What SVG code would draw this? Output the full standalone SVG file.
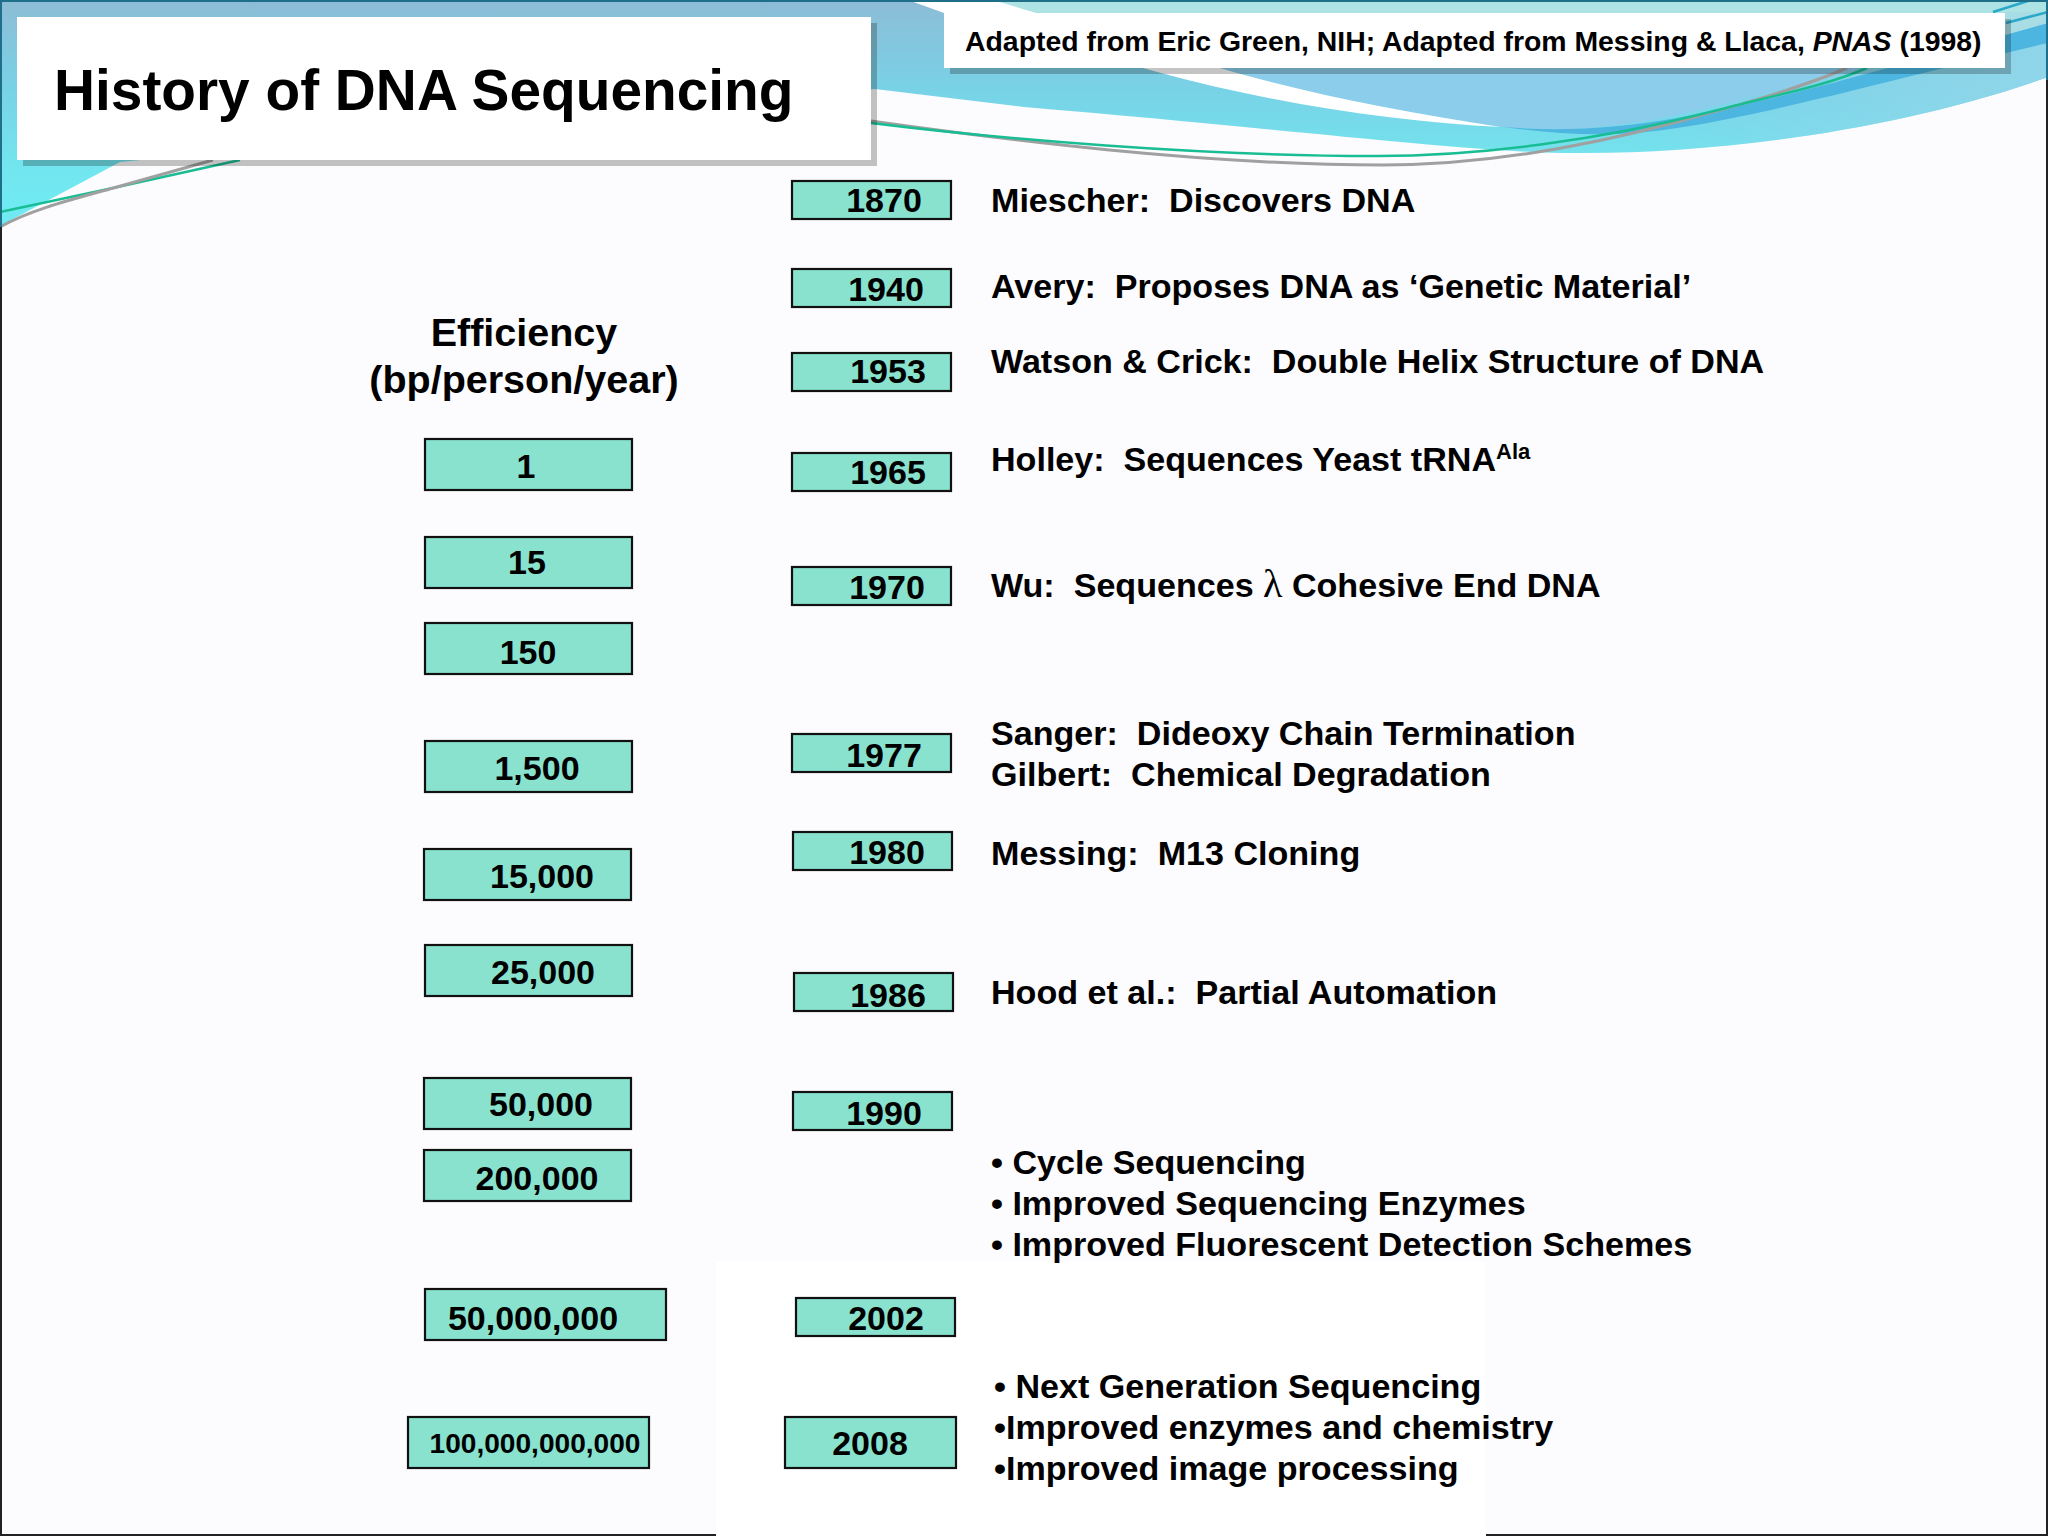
<svg xmlns="http://www.w3.org/2000/svg" width="2048" height="1536" viewBox="0 0 2048 1536">
<style>
text{font-family:"Liberation Sans",Arial,sans-serif;font-weight:bold;fill:#000;white-space:pre}
.box{fill:#88e2ce;stroke:#111;stroke-width:2.2}
.n{font-size:34px;text-anchor:middle}
.t{font-size:34.1px}
.sh{fill:#000;opacity:.23}
</style>
<defs>
<linearGradient id="sw" gradientUnits="userSpaceOnUse" x1="0" y1="0" x2="0" y2="200">
<stop offset="0" stop-color="#8dbcd6"/><stop offset=".45" stop-color="#78d2e6"/><stop offset=".8" stop-color="#73e4ee"/><stop offset="1" stop-color="#70eaf2"/>
</linearGradient>
<linearGradient id="rt" gradientUnits="userSpaceOnUse" x1="1650" y1="0" x2="2048" y2="0">
<stop offset="0" stop-color="#90d6ea" stop-opacity="0"/><stop offset="1" stop-color="#90d6ea"/>
</linearGradient>
</defs>
<g id="background">
<rect width="2048" height="1536" fill="#fcfbfd"/>
<rect x="716" y="1262" width="770" height="274" fill="#fff"/>
<path d="M0,0H2048V77C1900,130 1720,153 1586,153C1490,155 1300,130 1024,107L875,89L120,162L0,226Z" fill="url(#sw)"/>
<path d="M1500,0H2048V77C1900,130 1720,153 1586,153Z" fill="url(#rt)"/>
<path d="M993,0H2048V15H993Z" fill="#aee3e5"/>
<path d="M1220,68C1300,92 1400,112 1501,127C1580,134 1640,125 1720,105L1867,68L2048,23V15L1990,15H1100Z" fill="#8bcdeb"/>
<path d="M2000,12H2048V25L2005,35Z" fill="#a8dde6"/>
<path d="M993,0L1220,68C1300,92 1400,112 1501,127C1400,122 1280,105 1161,73L944,13L908,0Z" fill="#fff"/>
<path d="M1504,127C1560,132 1620,128 1677,118C1780,100 1880,70 2048,23V43C1880,82 1780,112 1677,128C1620,138 1560,135 1504,127Z" fill="#4cb6e0"/>
<path d="M0,212L113,188L240,160" fill="none" stroke="#19bd93" stroke-width="2.5"/>
<path d="M0,227C30,210 70,200 117,187L213,160" fill="none" stroke="#a0a0a0" stroke-width="3"/>
<path d="M871,121C1000,139 1200,165 1383,165C1480,165 1580,148 1677,122C1740,105 1800,88 1847,68" fill="none" stroke="#a0a0a0" stroke-width="3"/>
<path d="M871,123C1000,139 1200,156 1377,156C1480,156 1600,140 1710,112C1770,96 1820,88 1867,68" fill="none" stroke="#19bd93" stroke-width="2.5"/>
<path d="M2006,23L2048,12M1993,12L2031,0" fill="none" stroke="#2aa8c8" stroke-width="2.5"/>
<rect x="1" y="1" width="2046" height="1534" fill="none" stroke="#222" stroke-width="2"/>
<path d="M1,227V1H2047V80" fill="none" stroke="#1f6f8a" stroke-width="2"/>
<path d="M716,1535H1486" fill="none" stroke="#fff" stroke-width="3"/>
</g>
<g id="title">
<rect class="sh" x="23" y="23" width="854" height="143"/>
<rect x="17" y="17" width="854" height="143" fill="#fff"/>
<text x="54" y="110" font-size="56.8">History of DNA Sequencing</text>
</g>
<g id="credit">
<rect class="sh" x="950" y="19" width="1061" height="55"/>
<rect x="944" y="13" width="1061" height="55" fill="#fff"/>
<text x="965" y="51" font-size="28.4">Adapted from Eric Green, NIH; Adapted from Messing &amp; Llaca, <tspan font-style="italic">PNAS</tspan> (1998)</text>
</g>
<g id="efficiency-heading">
<text x="524" y="346" font-size="39.5" text-anchor="middle">Efficiency</text>
<text x="524" y="393" font-size="39.5" text-anchor="middle">(bp/person/year)</text>
</g>
<g id="eff-1"><rect class="box" x="425" y="439" width="207" height="51"/><text class="n" x="526" y="478">1</text></g>
<g id="eff-15"><rect class="box" x="425" y="537" width="207" height="51"/><text class="n" x="527" y="574">15</text></g>
<g id="eff-150"><rect class="box" x="425" y="623" width="207" height="51"/><text class="n" x="528" y="664">150</text></g>
<g id="eff-1500"><rect class="box" x="425" y="741" width="207" height="51"/><text class="n" x="537" y="780">1,500</text></g>
<g id="eff-15000"><rect class="box" x="424" y="849" width="207" height="51"/><text class="n" x="542" y="888">15,000</text></g>
<g id="eff-25000"><rect class="box" x="425" y="945" width="207" height="51"/><text class="n" x="543" y="984">25,000</text></g>
<g id="eff-50000"><rect class="box" x="424" y="1078" width="207" height="51"/><text class="n" x="541" y="1116">50,000</text></g>
<g id="eff-200000"><rect class="box" x="424" y="1150" width="207" height="51"/><text class="n" x="537" y="1190">200,000</text></g>
<g id="eff-50000000"><rect class="box" x="425" y="1289" width="241" height="51"/><text class="n" x="533" y="1330">50,000,000</text></g>
<g id="eff-100000000000"><rect class="box" x="408" y="1417" width="241" height="51"/><text class="n" x="535" y="1453" style="font-size:28.1px">100,000,000,000</text></g>
<g id="y1870"><rect class="box" x="792" y="181" width="159" height="38"/><text class="n" x="884" y="212">1870</text></g>
<g id="y1940"><rect class="box" x="792" y="269" width="159" height="38"/><text class="n" x="886" y="301">1940</text></g>
<g id="y1953"><rect class="box" x="792" y="353" width="159" height="38"/><text class="n" x="888" y="383">1953</text></g>
<g id="y1965"><rect class="box" x="792" y="453" width="159" height="38"/><text class="n" x="888" y="484">1965</text></g>
<g id="y1970"><rect class="box" x="792" y="567" width="159" height="38"/><text class="n" x="887" y="599">1970</text></g>
<g id="y1977"><rect class="box" x="792" y="734" width="159" height="38"/><text class="n" x="884" y="767">1977</text></g>
<g id="y1980"><rect class="box" x="793" y="832" width="159" height="38"/><text class="n" x="887" y="864">1980</text></g>
<g id="y1986"><rect class="box" x="794" y="973" width="159" height="38"/><text class="n" x="888" y="1007">1986</text></g>
<g id="y1990"><rect class="box" x="793" y="1092" width="159" height="38"/><text class="n" x="884" y="1125">1990</text></g>
<g id="y2002"><rect class="box" x="796" y="1298" width="159" height="38"/><text class="n" x="886" y="1330">2002</text></g>
<g id="y2008"><rect class="box" x="785" y="1417" width="171" height="51"/><text class="n" x="870" y="1455">2008</text></g>
<g id="events">
<text class="t" x="991" y="212">Miescher:  Discovers DNA</text>
<text class="t" x="991" y="298">Avery:  Proposes DNA as ‘Genetic Material’</text>
<text class="t" x="991" y="373">Watson &amp; Crick:  Double Helix Structure of DNA</text>
<text class="t" x="991" y="471">Holley:  Sequences Yeast tRNA<tspan font-size="22" dy="-12">Ala</tspan></text>
<text class="t" x="991" y="597">Wu:  Sequences <tspan font-family="'Liberation Serif',serif" font-size="40" font-weight="normal">λ</tspan> Cohesive End DNA</text>
<text class="t" x="991" y="745">Sanger:  Dideoxy Chain Termination</text>
<text class="t" x="991" y="786">Gilbert:  Chemical Degradation</text>
<text class="t" x="991" y="865">Messing:  M13 Cloning</text>
<text class="t" x="991" y="1004">Hood et al.:  Partial Automation</text>
<text class="t" x="991" y="1174">• Cycle Sequencing</text>
<text class="t" x="991" y="1215">• Improved Sequencing Enzymes</text>
<text class="t" x="991" y="1256">• Improved Fluorescent Detection Schemes</text>
<text class="t" x="994" y="1398">• Next Generation Sequencing</text>
<text class="t" x="994" y="1439">•Improved enzymes and chemistry</text>
<text class="t" x="994" y="1480">•Improved image processing</text>
</g>
</svg>
